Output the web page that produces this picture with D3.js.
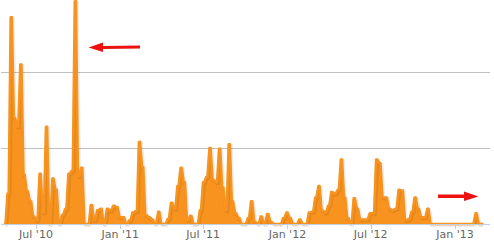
<!DOCTYPE html>
<html lang="en">
  <head>
    <meta charset="UTF-8" />
    <title>Weekly activity</title>
    <script src="https://d3js.org/d3.v7.min.js"></script>
    <style>
      body { margin: 0; background: #fff; }
      svg { display: block; }
    </style>
  </head>
  <body>
    <div id="chart"></div>
    <script>
      // weekly series, first week starts 24 Apr 2010
      const startDate = new Date(2010, 3, 24);
      const values = [
        0, 40, 272, 140, 128, 210, 65, 43, 30, 10,
        5, 66, 15, 128, 0, 60, 45, 0, 12, 20,
        66, 70, 293, 63, 74, 0, 0, 25, 5, 18,
        20, 0, 20, 18, 24, 22, 9, 9, 0, 5,
        15, 17, 108, 75, 12, 9, 6, 0, 16, 0,
        0, 7, 28, 20, 50, 74, 55, 5, 11, 0,
        0, 18, 55, 62, 100, 58, 55, 99, 48, 18,
        105, 30, 14, 8, 0, 0, 8, 30, 3, 0,
        10, 0, 13, 3, 0, 0, 0, 8, 15, 8,
        0, 0, 6, 0, 0, 15, 16, 35, 50, 18,
        15, 24, 42, 40, 45, 85, 35, 8, 0, 34,
        20, 6, 6, 6, 14, 14, 85, 80, 35, 35,
        20, 18, 20, 45, 44, 5, 6, 16, 35, 20,
        9, 9, 20, 0, 0, 0, 0, 0, 0, 0,
        0, 0, 0, 0, 0, 0, 0, 14, 0, 0
      ];
      const tickDates = ["2010-07-01", "2011-01-01", "2011-07-01", "2012-01-01", "2012-07-01", "2013-01-01"];
      const gridValues = [100, 200];

      const width = 494, height = 245;
      const orange = "#f7931e";

      const data = values.map((v, i) => ({ date: d3.timeDay.offset(startDate, i * 7), value: v }));
      const ticks = tickDates.map(d3.timeParse("%Y-%m-%d"));

      const x = d3.scaleTime().domain([ticks[0], ticks[ticks.length - 1]]).range([36, 455]);
      const y = d3.scaleLinear().domain([0, 300]).range([224, -4]);

      // step curve whose risers lean slightly, so spikes look like the original
      function curveSlantStep(context) {
        const slant = 1;
        let px, py, n;
        return {
          areaStart() { this._line = 0; },
          areaEnd() { this._line = NaN; },
          lineStart() { px = py = NaN; n = 0; },
          lineEnd() {
            if (n > 1) context.lineTo(px, py);
            if (this._line || (this._line !== 0 && n === 1)) context.closePath();
            this._line = 1 - this._line;
          },
          point(xv, yv) {
            if (n === 0) {
              this._line ? context.lineTo(xv, yv) : context.moveTo(xv, yv);
            } else {
              const xm = (px + xv) / 2;
              const dir = xv >= px ? 1 : -1;
              const s = Math.min(slant, Math.abs(xv - px) / 2) * dir;
              context.lineTo(xm - s, py);
              context.lineTo(xm + s, yv);
            }
            n++;
            px = xv; py = yv;
          }
        };
      }

      const svg = d3.select("#chart").append("svg")
        .attr("width", width)
        .attr("height", height);

      // grid lines
      svg.selectAll(".grid")
        .data(gridValues)
        .enter()
        .append("line")
        .attr("x1", 1)
        .attr("x2", 490)
        .attr("y1", d => Math.round(y(d)) + 0.5)
        .attr("y2", d => Math.round(y(d)) + 0.5)
        .style("stroke", "#c0c0c0")
        .style("stroke-width", 1);

      const area = d3.area()
        .curve(curveSlantStep)
        .x(d => x(d.date))
        .y0(y(0))
        .y1(d => y(d.value));

      const line = d3.line()
        .curve(curveSlantStep)
        .x(d => x(d.date))
        .y(d => y(d.value));

      svg.append("path")
        .datum(data)
        .attr("d", area)
        .style("fill", orange);

      // soft shadow under the line
      svg.append("path")
        .datum(data)
        .attr("d", line)
        .attr("transform", "translate(1,1)")
        .style("fill", "none")
        .style("stroke", "#000")
        .style("stroke-opacity", 0.07)
        .style("stroke-width", 4)
        .style("stroke-linejoin", "round");

      svg.append("path")
        .datum(data)
        .attr("d", line)
        .style("fill", "none")
        .style("stroke", orange)
        .style("stroke-width", 2.5)
        .style("stroke-linejoin", "round")
        .style("stroke-linecap", "round");

      // x axis
      const axis = svg.append("g").attr("transform", "translate(0,224)");
      axis.append("line")
        .attr("x1", 1)
        .attr("x2", 490)
        .attr("y1", 0.5)
        .attr("y2", 0.5)
        .style("stroke", "#c0d0e0")
        .style("stroke-width", 1);

      axis.selectAll(".tick")
        .data(ticks)
        .enter()
        .append("line")
        .attr("x1", d => Math.round(x(d)) + 0.5)
        .attr("x2", d => Math.round(x(d)) + 0.5)
        .attr("y1", 0)
        .attr("y2", 5)
        .style("stroke", "#c0d0e0");

      axis.selectAll(".label")
        .data(ticks)
        .enter()
        .append("text")
        .attr("x", d => x(d))
        .attr("y", 14)
        .attr("text-anchor", "middle")
        .style("font-family", "'DejaVu Sans', Verdana, sans-serif")
        .style("font-size", "11px")
        .style("fill", "#666")
        .text(d3.timeFormat("%b '%y"));

      // red annotation arrows
      svg.append("path")
        .attr("d", "M140,45.5 L103,46 L103,42.5 L88.5,47.5 L103,52 L103,49 L140,48.5 Z")
        .style("fill", "#ee1111");

      svg.append("path")
        .attr("d", "M438,194.5 L464,194.5 L464,191.5 L478.5,196.5 L464,201 L464,198 L438,198 Z")
        .style("fill", "#ee1111");
    </script>
  </body>
</html>
